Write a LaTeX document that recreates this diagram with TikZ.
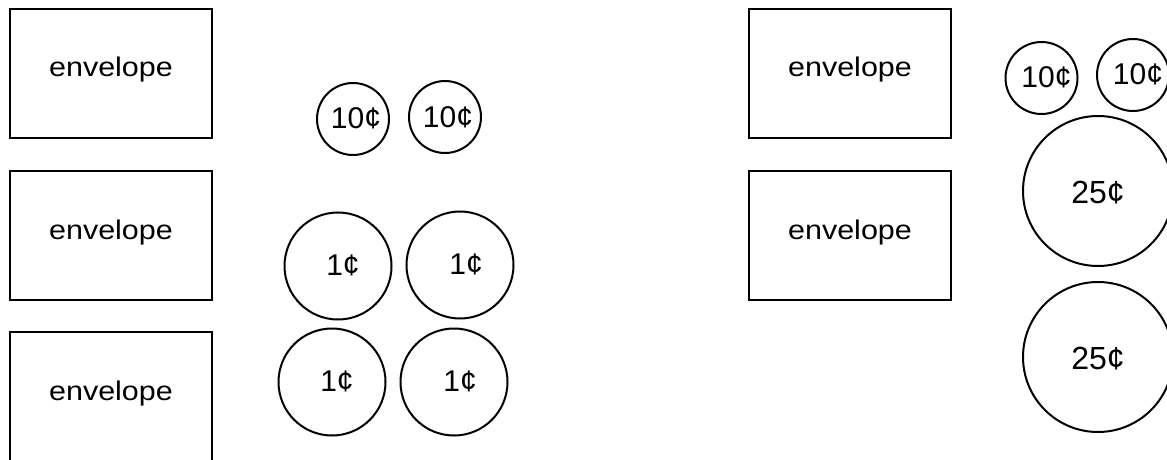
\documentclass[tikz,border=0pt]{standalone}
\usepackage{fontspec}
\setmainfont{Liberation Sans}
\begin{document}
\begin{tikzpicture}[x=0.5pt,y=-0.5pt,
  envbox/.style={draw=black, line width=1.1pt, rectangle, inner sep=0pt,
    minimum width=101pt, minimum height=64.5pt,
    font=\fontsize{13.5pt}{16pt}\selectfont, text height=8pt, text depth=4.5pt},
  coin/.style={draw=black, line width=1pt, circle, inner sep=0pt,
    font=\fontsize{15pt}{18pt}\selectfont, text height=9pt, text depth=0pt},
  smallcoin/.style={coin, minimum size=36pt, text height=10pt},
  pennycoin/.style={coin, minimum size=53.5pt},
  quartercoin/.style={coin, minimum size=75pt,
    font=\fontsize{16pt}{19pt}\selectfont, text height=12pt}]
\useasboundingbox (0,0) rectangle (1167,460);
\clip (0,0) rectangle (1167,460);
% left envelopes
\node[envbox] (eL1) at (111,73.5) {\scalebox{1.13}[1]{envelope}};
\node[envbox] (eL2) at (111,235.5) {\scalebox{1.13}[1]{envelope}};
\node[envbox, minimum height=69pt] (eL3) at (111,401) {};
\node[font=\fontsize{13.5pt}{16pt}\selectfont, anchor=base] (eL3t) at (111,400) {\scalebox{1.13}[1]{envelope}};
% left coins
\node[smallcoin] (d1) at (353,119) {\hspace*{3pt}10¢};
\node[smallcoin] (d2) at (445,117) {\hspace*{3pt}10¢};
\node[pennycoin] (p1) at (338,266) {\hspace*{5pt}1¢};
\node[pennycoin] (p2) at (460,265) {\hspace*{6pt}1¢};
\node[pennycoin] (p3) at (332,382) {\hspace*{5pt}1¢};
\node[pennycoin] (p4) at (454,382) {\hspace*{6pt}1¢};
% right envelopes
\node[envbox] (eR1) at (850,73.5) {\scalebox{1.13}[1]{envelope}};
\node[envbox] (eR2) at (850,235.5) {\scalebox{1.13}[1]{envelope}};
% right coins
\node[smallcoin] (d3) at (1041.5,78) {\hspace*{5pt}10¢};
\node[smallcoin] (d4) at (1133,75) {\hspace*{5pt}10¢};
\node[quartercoin] (q1) at (1098,191) {25¢};
\node[quartercoin] (q2) at (1098,357) {25¢};
\end{tikzpicture}
\end{document}
